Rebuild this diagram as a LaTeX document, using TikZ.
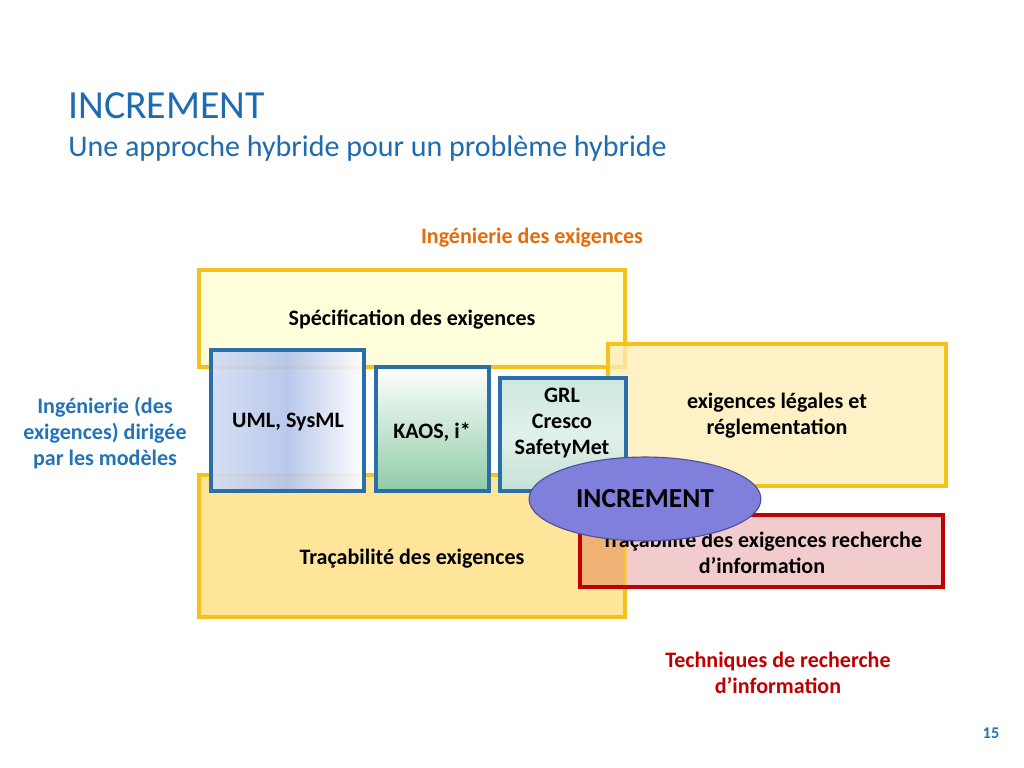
\documentclass[tikz,border=0pt]{standalone}
\usepackage{fontspec}
\setmainfont{Carlito}
\usetikzlibrary{shapes.geometric}
\definecolor{titleblue}{HTML}{1F6BB0}
\definecolor{sideblue}{HTML}{2573B5}
\definecolor{gold}{HTML}{F5C21B}
\definecolor{specfill}{HTML}{FFFFDC}
\definecolor{tracfill}{HTML}{FFE599}
\definecolor{legalfill}{HTML}{FFEDB3}
\definecolor{pinkfill}{HTML}{F2CCCC}
\definecolor{overlapfill}{HTML}{F0B274}
\definecolor{darkred}{HTML}{C00000}
\definecolor{boxblue}{HTML}{2A6FA8}
\definecolor{ieorange}{HTML}{E46C0A}
\definecolor{ellfill}{HTML}{8080DC}
\definecolor{elldraw}{HTML}{4F4F9F}
\definecolor{umlleft}{HTML}{D4DDF3}
\definecolor{umlmid}{HTML}{B4C4EA}
\definecolor{kaosbot}{HTML}{8FCBA6}
\definecolor{grltop}{HTML}{CDE8DE}
\definecolor{grlmid}{HTML}{E1F0EA}
\definecolor{grlbot}{HTML}{C4E2D6}
\tikzset{
  txt/.style={inner sep=0pt, align=center, font=\bfseries\fontsize{15.5}{18.2}\selectfont},
  goldbox/.style={draw=gold, line width=2.4pt},
  bluebox/.style={draw=boxblue, line width=2.2pt},
}
\begin{document}
\begin{tikzpicture}[x=0.703125pt, y=-0.703125pt]
\useasboundingbox (0,0) rectangle (1024,768);
\fill[white] (0,0) rectangle (1024,768);
% title
\node[anchor=base west, inner sep=0pt, text=titleblue, font=\fontsize{28}{34}\selectfont] (title) at (68,119) {INCREMENT};
\node[anchor=base west, inner sep=0pt, text=titleblue, font=\fontsize{21.1}{25}\selectfont] (subtitle) at (68,157) {Une approche hybride pour un problème hybride};
\node[txt, text=ieorange] (ie) at (532,238) {Ingénierie des exigences};
% big boxes
\draw[goldbox, fill=specfill] (199,270) rectangle (625,367);
\draw[goldbox, fill=tracfill] (199,475) rectangle (625,617);
\draw[goldbox, fill=legalfill, fill opacity=0.75] (608,344) rectangle (946,486);
% pink box with overlap
\fill[pinkfill] (580,515) rectangle (943,587);
\fill[overlapfill] (580,515) rectangle (625,587);
\draw[gold, line width=2.4pt, opacity=0.6] (625,515) -- (625,587);
\draw[draw=darkred, line width=2.4pt] (580,515) rectangle (943,587);
% inner blue boxes
\shade[left color=umlleft, right color=white, middle color=umlmid, opacity=0.92] (211,350) rectangle (364,491);
\draw[bluebox] (211,350) rectangle (364,491);
\shade[top color=white, bottom color=kaosbot] (376,367) rectangle (489,491);
\draw[bluebox, line width=3pt] (376,367) rectangle (489,491);
\shade[top color=grltop, bottom color=grlbot, middle color=grlmid] (500,378) rectangle (626,491);
\draw[bluebox] (500,378) rectangle (626,491);
% texts
\node[txt] (spec) at (412,320) {Spécification des exigences};
\node[txt] (trac) at (412,559) {Traçabilité des exigences};
\node[txt, text=sideblue] (mde) at (105,433) {Ingénierie (des\\exigences) dirigée\\par les modèles};
\node[txt] (uml) at (288,422) {UML, SysML};
\node[txt] (kaos) at (432,432) {KAOS, i*};
\node[txt] (grl) at (562,423) {GRL\\Cresco\\SafetyMet};
\node[txt] (legal) at (777,416) {exigences légales et\\réglementation};
\node[txt] (tracri) at (762,553) {Traçabilité des exigences recherche\\d’information};
% ellipse
\node[ellipse, draw=elldraw, line width=0.8pt, fill=ellfill, minimum width=163pt, minimum height=59pt, inner sep=0pt, font=\bfseries\fontsize{19.3}{23}\selectfont] (inc) at (645,499) {INCREMENT};
\node[txt, text=darkred] (tri) at (778,673) {Techniques de recherche\\d’information};
\node[inner sep=0pt, text=sideblue, font=\bfseries\fontsize{11.5}{14}\selectfont] (page) at (991,733) {15};
\end{tikzpicture}
\end{document}
